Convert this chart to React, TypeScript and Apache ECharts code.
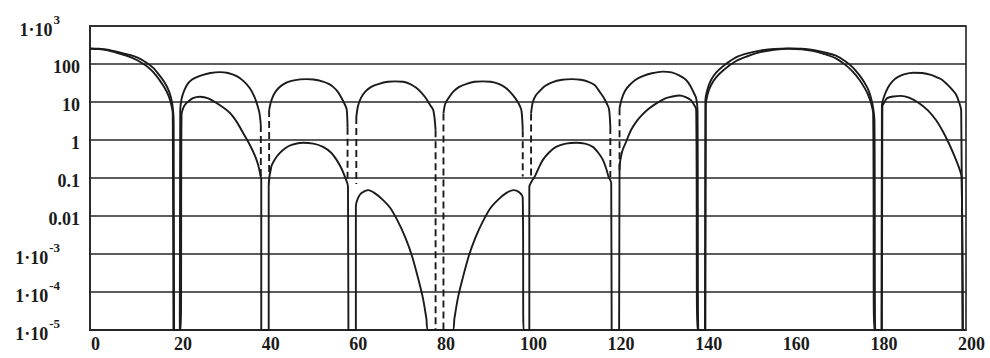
import React, { useEffect, useRef } from "react";
import * as echarts from "echarts";

const Z = 1e-5; // value used for the nulls (axis floor)

// x positions of axis ticks
const xTicks = [0, 20, 40, 60, 80, 100, 120, 140, 160, 180, 200];
// y tick labels, from 1e-5 up to 1e3
const yTickLabels = ["1·10^-5", "1·10^-4", "1·10^-3", "0.01", "0.1", "1", "10", "100", "1·10^3"];

// upper curve (solid); null = gap where the curve continues as a dashed drop
const upperCurve: any[] = [
  [0, 257], [2, 252], [4, 238], [6.5, 205], [9.1, 174], [11, 145], [12.9, 108], [14.5, 78], [16, 48], [17, 33], [17.9, 21], [18.5, 13], [18.9, 7], [19.1, 3], [19.2, Z],
  [20.5, Z], [20.6, 6], [20.9, 12], [21.5, 20], [22.3, 30], [23.3, 39], [24.5, 46], [25.8, 52], [27.5, 58], [29.6, 61], [31.5, 58], [33.5, 48], [35, 36], [36.5, 23], [37.5, 14], [38.2, 8.3], [38.7, 5], [39, 2.5], null,
  [40.9, 6.2], [41.3, 10], [42, 16], [43, 23], [44.3, 30], [46, 36], [48, 39.5], [49.5, 40], [51, 39], [53, 35], [54.5, 30], [55.5, 25], [56.5, 19], [57.4, 13], [58.1, 9], [58.6, 6.5], [58.8, 2.1], null,
  [60.8, 4], [61.2, 8], [61.9, 13], [62.9, 19], [64.2, 25], [66, 30], [68, 34], [69.6, 35], [71.5, 34], [73, 30], [74.4, 24], [75.6, 18], [76.7, 12.5], [77.6, 8.5], [78.4, 6], [78.9, 1.8], null,
  [80.7, 5], [81.1, 9], [81.9, 13], [83, 19], [84.3, 25], [86, 30], [87.8, 34], [89.6, 35], [91.5, 34], [93.3, 30], [94.8, 24], [96, 18], [97, 13], [97.9, 9], [98.5, 6], [98.8, 1.8], null,
  [100.7, 5], [101.1, 10], [101.8, 15], [102.6, 19], [103.8, 26], [105.5, 33], [107.8, 38.5], [110, 40], [112, 38.5], [113.8, 34], [115.2, 28], [116.3, 19], [117.3, 13], [118, 9], [118.5, 6.5], [118.8, 2.2], null,
  [120.9, 6.8], [121.4, 12], [122.2, 20], [123.2, 28], [124.5, 38], [126.2, 48], [128.3, 57], [130.7, 63], [132.8, 60], [134.5, 50], [136.1, 38], [137.1, 26], [137.9, 17], [138.4, 12.6], [138.7, 6], [138.9, Z],
  [140.4, Z], [140.5, 11], [141, 22], [141.8, 38], [143, 60], [144.8, 93], [147.5, 150], [150.1, 190], [153, 225], [156.2, 250], [159.5, 258], [162.5, 252], [165, 235], [167.5, 205], [170.3, 165], [172.6, 115], [174.2, 80], [175.7, 50], [176.7, 34], [177.6, 22], [178.3, 13], [178.8, 7], [179.1, 3], [179.3, Z],
  [180.7, Z], [180.8, 8], [181.3, 14], [182.2, 24], [183.2, 35], [184.4, 45], [186, 54], [188, 59], [190, 58], [192, 52], [193.5, 44], [194.6, 38], [195.7, 29], [196.7, 22], [197.7, 16], [198.4, 10], [198.9, 6], [199.2, Z],
];

// lower curve (solid)
const lowerCurve: any[] = [
  [0, 252], [2, 246], [4, 230], [6.5, 192], [9.1, 155], [11, 122], [12.9, 88], [14.5, 60], [16, 36], [17, 24], [17.9, 15], [18.5, 9], [18.9, 5], [19.05, Z],
  [20.7, Z], [20.9, 4.6], [21.3, 7], [22, 9.3], [23.5, 12.6], [25.1, 13.8], [27, 12.5], [29.6, 8.3], [31.9, 5.2], [33.5, 3], [35, 1.5], [36.5, 0.74], [37.6, 0.4], [38.4, 0.22], [38.9, 0.12], [39.1, 0.09], [39.1, Z],
  [40.8, Z], [40.8, 0.06], [41.4, 0.2], [42.3, 0.32], [43.3, 0.45], [44.5, 0.6], [46, 0.74], [48.6, 0.85], [51, 0.8], [53.2, 0.66], [55, 0.47], [56.3, 0.3], [57.5, 0.17], [58.2, 0.107], [58.9, 0.06], [59, Z],
  [60.7, Z], [60.7, 0.018], [61.2, 0.03], [62, 0.04], [63.5, 0.048], [65, 0.04], [66.8, 0.027], [68.6, 0.016], [70.3, 0.0072], [72, 0.0027], [73.5, 0.0009], [75, 0.00021], [76, 0.00007], [76.8, 0.00002], [77.2, Z],
  [82.8, Z], [83.2, 0.00002], [84, 0.00007], [85, 0.00021], [86.5, 0.0009], [88, 0.0027], [89.7, 0.0072], [91.4, 0.016], [93.2, 0.027], [95, 0.04], [96.7, 0.048], [98, 0.042], [98.8, 0.03], [99, Z],
  [100.3, Z], [100.3, 0.059], [100.8, 0.08], [101.5, 0.107], [102.4, 0.18], [103.4, 0.3], [104.8, 0.47], [106.4, 0.66], [108.6, 0.8], [111, 0.85], [113, 0.8], [114.8, 0.66], [116, 0.47], [117.1, 0.3], [117.9, 0.17], [118.4, 0.107], [119, 0.074], [119.1, Z],
  [120.8, Z], [120.9, 0.18], [121.5, 0.5], [122.4, 0.9], [123.5, 1.8], [124.7, 3], [126, 4.5], [127.7, 6.8], [129.5, 9.5], [131.5, 12.6], [133, 14], [134.6, 14.8], [136, 13.5], [137.2, 11.2], [137.9, 8.5], [138.4, 6.3], [138.7, Z],
  [140.5, Z], [140.6, 8], [141, 16], [141.8, 28], [143, 45], [144.8, 72], [147.5, 120], [150.1, 160], [153, 205], [156.2, 238], [159.5, 252], [162.5, 245], [165, 222], [167.5, 185], [170.3, 140], [172.6, 92], [174.2, 62], [175.7, 38], [176.7, 25], [177.6, 16], [178.3, 9.5], [178.8, 5], [179.05, Z],
  [180.8, Z], [180.9, 7.6], [181.4, 10], [182, 12.6], [183.5, 14], [185.1, 14.5], [187, 13], [189.3, 9.3], [191.3, 6], [193.1, 3.4], [194.7, 1.7], [196.1, 0.81], [197.2, 0.42], [198, 0.25], [198.6, 0.16], [199, 0.107], [199.3, Z],
];

// dashed drops of the upper curve into its nulls
const dashX = [39.0, 40.9, 58.8, 60.8, 78.9, 80.7, 98.8, 100.7, 118.8, 120.9];
const dashTop = [2.5, 6.2, 2.1, 4, 1.8, 5, 1.8, 5, 2.2, 6.8];
const dashBottom = [0.1, 0.12, 0.09, 0.07, Z, Z, 0.11, 0.107, 0.107, 0.15];

const INK = "#1b1b1b";
const FONT = "'Liberation Serif', 'Times New Roman', serif";

function splitSegments(pts: any[]) {
  const segs: any[][] = [];
  let cur: any[] = [];
  for (const p of pts) {
    if (p === null) {
      if (cur.length) segs.push(cur);
      cur = [];
    } else cur.push(p);
  }
  if (cur.length) segs.push(cur);
  return segs;
}

function yLabel(v: number) {
  const e = Math.round(Math.log10(v));
  const t = yTickLabels[e + 5];
  if (t === undefined) return "";
  if (t.indexOf("^") >= 0) {
    const [b, s] = t.split("^");
    return `{m|${b}}{s|${s}}`;
  }
  return `{n|${t}}`;
}

export default function App() {
  const ref = useRef<HTMLDivElement>(null);
  useEffect(() => {
    if (!ref.current) return;
    const chart = echarts.init(ref.current, null, { renderer: "svg" });
    const lineBase = {
      type: "line",
      showSymbol: false,
      symbol: "none",
      silent: true,
      clip: true,
      smooth: 0.3,
      lineStyle: { color: INK, width: 1.9 },
    };
    const series: any[] = [];
    splitSegments(upperCurve).forEach((seg) => series.push({ ...lineBase, data: seg }));
    series.push({ ...lineBase, data: lowerCurve });
    dashX.forEach((x, i) =>
      series.push({
        ...lineBase,
        smooth: false,
        data: [
          [x, dashTop[i]],
          [x, dashBottom[i]],
        ],
        lineStyle: { color: INK, width: 1.9, type: [7, 4] },
      })
    );
    chart.setOption({
      animation: false,
      backgroundColor: "#ffffff",
      grid: {
        left: 90,
        right: 24,
        top: 26,
        bottom: 28,
        show: true,
        borderColor: "#222",
        borderWidth: 1.6,
      },
      xAxis: {
        type: "value",
        min: 0,
        max: 200,
        interval: 20,
        axisLine: { show: true, lineStyle: { color: "#222", width: 1.6 } },
        axisTick: { show: false },
        splitLine: { show: false },
        axisLabel: {
          margin: 5,
          fontFamily: FONT,
          fontSize: 18,
          fontWeight: "bold",
          color: INK,
          padding: [0, 0, 0, 11],
          formatter: (v: number) => (xTicks.indexOf(v) >= 0 ? String(v) : ""),
        },
      },
      yAxis: {
        type: "log",
        logBase: 10,
        min: 1e-5,
        max: 1e3,
        splitNumber: 8,
        axisLine: { show: true, lineStyle: { color: "#222", width: 1.6 } },
        axisTick: { show: false },
        minorTick: { show: false },
        splitLine: { show: true, lineStyle: { color: "#262626", width: 1.6 } },
        axisLabel: {
          margin: 10,
          formatter: yLabel,
          rich: {
            n: { fontFamily: FONT, fontSize: 18, fontWeight: "bold", color: INK, padding: [5, 0, 0, 0] },
            m: { fontFamily: FONT, fontSize: 18, fontWeight: "bold", color: INK, padding: [7, 0, 0, 0] },
            s: { fontFamily: FONT, fontSize: 13, fontWeight: "bold", color: INK, padding: [0, 20, 13, 1] },
          },
        },
      },
      series,
    });
    return () => chart.dispose();
  }, []);
  return (
    <div
      ref={ref}
      style={{ position: "fixed", left: 0, top: 0, width: 990, height: 358, background: "#fff" }}
    />
  );
}
